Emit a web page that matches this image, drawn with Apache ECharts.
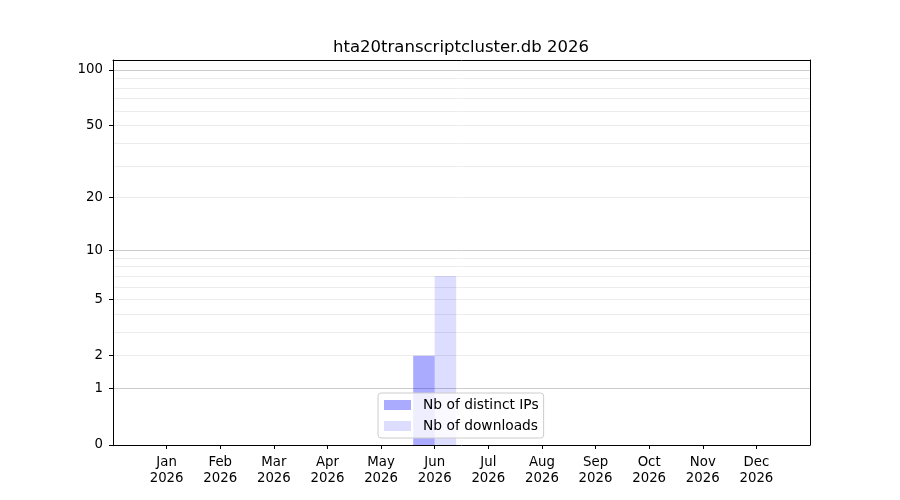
<!DOCTYPE html>
<html>
<head>
<meta charset="utf-8">
<script src="https://cdn.jsdelivr.net/npm/echarts@6/dist/echarts.min.js"></script>
<style>html,body{margin:0;padding:0;background:#fff}#c{width:900px;height:500px}</style>
</head>
<body>
<div id="c"></div>
<script>
// ---- data ----
const months = ['Jan','Feb','Mar','Apr','May','Jun','Jul','Aug','Sep','Oct','Nov','Dec'];
const yearLabel = '2026';
const distinctIPs = [0,0,0,0,0,2,0,0,0,0,0,0];
const downloads   = [0,0,0,0,0,7,0,0,0,0,0,0];
const yTickLabels = [0,1,2,5,10,20,50,100];
const yMajorGrid  = [1,10,100];
const yMinorGrid  = [2,3,4,5,6,7,8,9,20,30,40,50,60,70,80,90];
const yTopValue   = 113.2;

// y-scale transform: log10(1 + v)
const tf = v => Math.log10(1 + v);
const inv = t => Math.round(Math.pow(10, t) - 1);

const FONT = 'DejaVu Sans';
const yMax = tf(yTopValue);

const chart = echarts.init(document.getElementById('c'), null, {renderer: 'canvas'});

const hiddenY = (vals, color) => ({
  type: 'value', min: 0, max: yMax, position: 'left',
  axisLine: {show: false},
  axisTick: {show: false, customValues: vals.map(tf)},
  axisLabel: {show: false, customValues: vals.map(tf)},
  splitLine: {show: true, lineStyle: {color: color, width: 1}}
});

chart.setOption({
  animation: false,
  title: {
    text: 'hta20transcriptcluster.db ' + yearLabel,
    left: 456, top: 34, textAlign: 'center',
    textStyle: {fontFamily: FONT, fontSize: 16.5, fontWeight: 'normal', color: '#000'}
  },
  grid: {left: 113, right: 90, top: 60, bottom: 55, show: false},
  legend: {
    orient: 'vertical',
    left: 378, top: 393,
    itemWidth: 27, itemHeight: 10, itemGap: 5,
    padding: [4, 5, 4, 6],
    borderColor: '#cccccc', borderWidth: 1, borderRadius: 3,
    backgroundColor: 'rgba(255,255,255,0.8)',
    icon: 'rect',
    textStyle: {fontFamily: FONT, fontSize: 13.8, color: '#000', padding: [0,0,0,7], lineHeight: 16},
    data: ['Nb of distinct IPs', 'Nb of downloads']
  },
  xAxis: [
    {
      type: 'value', min: 0, max: months.length + 1, position: 'bottom',
      splitLine: {show: false},
      axisLine: {show: true, onZero: false, lineStyle: {color: '#000', width: 1}},
      axisTick: {show: true, length: 4, customValues: months.map((m, i) => i + 1), lineStyle: {color: '#000'}},
      axisLabel: {
        customValues: months.map((m, i) => i + 1),
        margin: 10,
        fontFamily: FONT, fontSize: 13.3, color: '#000', lineHeight: 16,
        formatter: v => months[Math.round(v) - 1] + '\n' + yearLabel
      }
    },
    {
      type: 'value', min: 0, max: months.length + 1, position: 'top',
      splitLine: {show: false}, axisTick: {show: false}, axisLabel: {show: false},
      axisLine: {show: true, onZero: false, lineStyle: {color: '#000', width: 1}}
    }
  ],
  yAxis: [
    hiddenY(yMinorGrid, '#ececec'),
    hiddenY(yMajorGrid, '#cccccc'),
    {
      type: 'value', min: 0, max: yMax, position: 'left',
      axisLine: {show: true, onZero: false, lineStyle: {color: '#000', width: 1}},
      axisTick: {show: true, length: 4, customValues: yTickLabels.map(tf), lineStyle: {color: '#000'}},
      axisLabel: {
        customValues: yTickLabels.map(tf), margin: 10,
        fontFamily: FONT, fontSize: 13.3, color: '#000',
        padding: [3, 0, 0, 0],
        formatter: v => String(inv(v))
      },
      splitLine: {show: false}
    },
    {
      type: 'value', min: 0, max: yMax, position: 'right',
      axisLine: {show: true, onZero: false, lineStyle: {color: '#000', width: 1}},
      axisTick: {show: false}, axisLabel: {show: false}, splitLine: {show: false}
    }
  ],
  series: [
    {
      name: 'Nb of distinct IPs', type: 'bar', barWidth: 21.5, barGap: '0%',
      itemStyle: {color: 'rgba(0,0,255,0.333)'},
      data: distinctIPs.map((v, i) => [i + 1, tf(v)])
    },
    {
      name: 'Nb of downloads', type: 'bar', barWidth: 21.5, barGap: '0%',
      itemStyle: {color: 'rgba(0,0,255,0.133)'},
      data: downloads.map((v, i) => [i + 1, tf(v)])
    }
  ]
});
</script>
</body>
</html>
